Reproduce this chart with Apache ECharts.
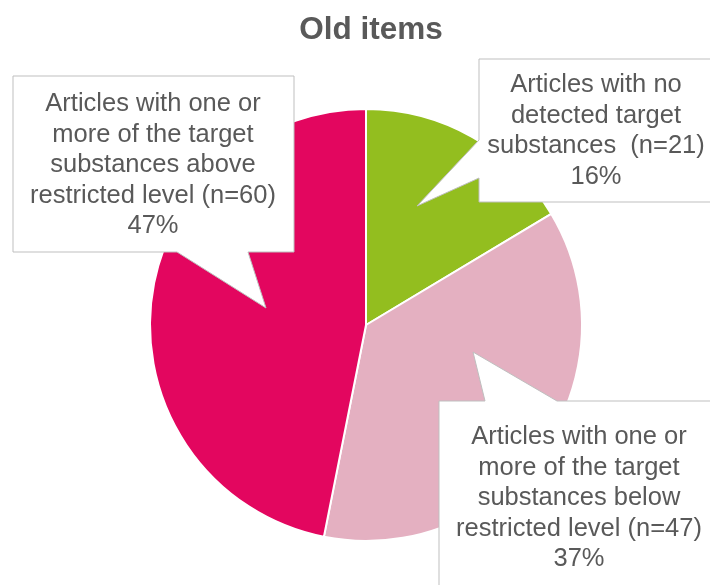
<!DOCTYPE html>
<html>
<head>
<meta charset="utf-8">
<script src="https://cdn.jsdelivr.net/npm/echarts@6/dist/echarts.min.js"></script>
<style>html,body{margin:0;padding:0;background:#fff}#c{width:710px;height:585px}</style>
</head>
<body>
<div id="c"></div>
<script>
var title = "Old items";
var categories = [
  "Articles with no\ndetected target\nsubstances  (n=21)",
  "Articles with one or\nmore of the target\nsubstances below\nrestricted level (n=47)",
  "Articles with one or\nmore of the target\nsubstances above\nrestricted level (n=60)"
];
var values = [21, 47, 60];
var colors = ["#93BE1F", "#E4B0C1", "#E3065F"];

var total = values.reduce(function(a, b){ return a + b; }, 0);
function pct(v){ return Math.round(v / total * 100) + "%"; }

// callout shapes (annotation boxes), one per category
var callouts = [
  { shape: [[479,59],[714,59],[714,202],[479,202],[479,178],[417,206],[479,140]], tx: 596, ty: 131 },
  { shape: [[439,401],[485,401],[473,352],[557,401],[720,401],[720,600],[439,600]], tx: 579, ty: 498 },
  { shape: [[13,76],[294,76],[294,252],[248,252],[266,308],[177,252],[13,252]], tx: 153, ty: 165 }
];

var graphics = [];
callouts.forEach(function(c, i){
  graphics.push({
    type: 'polygon', z: 10,
    shape: { points: c.shape },
    style: { fill: '#ffffff', stroke: '#BFBFBF', lineWidth: 1 }
  });
  graphics.push({
    type: 'text', z: 11, x: c.tx, y: c.ty,
    style: {
      text: categories[i] + "\n" + pct(values[i]),
      fill: '#595959',
      font: '25.5px "Liberation Sans", Arial, sans-serif',
      align: 'center', verticalAlign: 'middle',
      textAlign: 'center', textVerticalAlign: 'middle',
      lineHeight: 30.5
    }
  });
});

var chart = echarts.init(document.getElementById('c'), null, {renderer: 'canvas'});
chart.setOption({
  animation: false,
  backgroundColor: '#ffffff',
  title: {
    text: title, left: 366, textAlign: 'center', top: 9,
    textStyle: { fontFamily: '"Liberation Sans", Arial, sans-serif', fontSize: 31.5, fontWeight: 'bold', color: '#595959' }
  },
  series: [{
    type: 'pie',
    center: [366, 325],
    radius: 216,
    startAngle: 90,
    clockwise: true,
    label: { show: false },
    labelLine: { show: false },
    itemStyle: { borderColor: '#ffffff', borderWidth: 2 },
    data: values.map(function(v, i){ return { value: v, name: categories[i], itemStyle: { color: colors[i] } }; })
  }],
  graphic: graphics
});
</script>
</body>
</html>
